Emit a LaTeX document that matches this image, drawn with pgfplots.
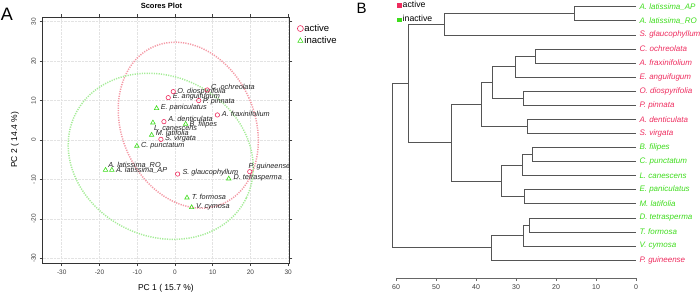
\documentclass[border=0pt]{standalone}
\usepackage{pgfplots}
\usepackage{pgfplotstable}
\pgfplotsset{compat=1.18}
\usepackage{fontspec}
\setmainfont{Liberation Sans}

\definecolor{act}{HTML}{EE2C5E}
\definecolor{inact}{HTML}{3EDC1C}
\definecolor{actell}{HTML}{F49AA6}
\definecolor{inactell}{HTML}{A6EC98}
\definecolor{dendcol}{HTML}{555555}
\definecolor{lab}{HTML}{222222}

% PCA scores (PC1, PC2)
\pgfplotstableread{
x      y
8.55   12.69
-0.45  12.27
-1.78  10.74
6.29   10.0
11.24  6.35
-2.92  4.65
-3.72  0.17
0.71   -8.63
19.82  -8.04
}\activetbl

\pgfplotstableread{
x      y
-4.87  8.04
-5.84  4.40
2.83   4.06
-6.19  1.27
-10.09 -1.52
-18.40 -7.61
-16.72 -7.61
14.25  -9.81
3.19   -14.64
4.42   -17.09
}\inactivetbl

\tikzset{sp/.style={font=\fontsize{7.3}{8.5}\selectfont\itshape, text=lab, anchor=west, inner sep=0pt}}
\tikzset{leaf/.style={font=\fontsize{8}{9}\selectfont\itshape, anchor=west, inner sep=0pt, xshift=3.3pt}}

\begin{document}
\begin{tikzpicture}[x=1pt,y=1pt]
\useasboundingbox (0,0) rectangle (700,293);

\node[font=\fontsize{18}{18}\selectfont] at (7,278.5) {A};
\node[font=\fontsize{15}{15}\selectfont] at (361.5,284.3) {B};

% ---------- PCA scores plot ----------
\begin{axis}[
  at={(165.9pt,153pt)}, anchor=center,
  scale only axis, width=246.8pt, height=246pt,
  xmin=-35.1, xmax=30.3, ymin=-31.2, ymax=31.2,
  xtick={-30,-20,...,30}, ytick={-30,-20,...,30},
  xticklabels={-30,-20,-10,0,10,20,30},
  yticklabels={-30,-20,-10,0,10,20,30},
  tick align=outside, major tick length=3pt,
  tick style={black!75, line width=0.5pt},
  grid=major, major grid style={gray!22, densely dotted, line width=0.6pt},
  axis line style={black!80, line width=0.6pt},
  ticklabel style={font=\fontsize{6.5}{7}\selectfont, text=black!75},
  yticklabel style={rotate=90},
  /pgf/number format/assume math mode=true,
  xlabel={PC 1 ( 15.7 \%)},
  ylabel={PC 2 ( 14.4 \%)},
  label style={font=\fontsize{8.5}{9}\selectfont},
  xlabel style={at={(axis description cs:0.5,-0.1016)}, anchor=center},
  ylabel style={at={(axis description cs:-0.1114,0.5)}, anchor=center},
  title={\textbf{Scores Plot}},
  title style={at={(axis description cs:0.482,1)}, anchor=center, yshift=5pt, font=\fontsize{7.5}{8}\selectfont},
  legend image code/.code={\draw[#1, mark size=3pt] plot coordinates {(0pt,0pt)};},
  legend style={at={(axis description cs:1.032,0.975)}, anchor=north west,
    draw=none, fill=none, inner sep=0pt, font=\fontsize{9.5}{10}\selectfont,
    row sep=2pt, nodes={inner sep=1pt}},
  legend cell align=left,
  clip=false,
]
% confidence ellipses
\draw[actell, line width=1.5pt, dash pattern=on 1.2pt off 1.2pt,
  rotate around={23.9:(axis cs:3.53,3.76)}]
  (axis cs:3.53,3.76) ellipse [x radius=66.5pt, y radius=85.8pt];
\draw[inactell, line width=1.5pt, dash pattern=on 1.2pt off 1.2pt,
  rotate around={-25.8:(axis cs:-3.77,-4.14)}]
  (axis cs:-3.77,-4.14) ellipse [x radius=95.2pt, y radius=79.9pt];

\addplot[only marks, mark=o, act, mark size=2.2pt, mark options={line width=0.6pt}]
  table {\activetbl};
\addlegendentry{active}
\addplot[only marks, mark=triangle, inact, mark size=2.6pt, mark options={line width=0.6pt}]
  table {\inactivetbl};
\addlegendentry{inactive}

\node[sp] at (axis cs:9.56,13.53) {C. ochreolata};
\node[sp] at (axis cs:0.62,12.27) {O. diospyrifolia};
\node[sp] at (axis cs:-0.62,11.08) {E. anguifugum};
\node[sp] at (axis cs:7.34,9.73) {P. pinnata};
\node[sp] at (axis cs:-3.8,8.2) {E. paniculatus};
\node[sp] at (axis cs:12.39,6.6) {A. fraxinifolium};
\node[sp] at (axis cs:-1.77,5.41) {A. denticulata};
\node[sp] at (axis cs:3.81,3.98) {B. filipes};
\node[sp] at (axis cs:-5.57,3.13) {L. canescens};
\node[sp] at (axis cs:-5.13,1.69) {M. latifolia};
\node[sp] at (axis cs:-2.65,0.25) {S. virgata};
\node[sp] at (axis cs:-9.03,-1.44) {C. punctatum};
\node[sp] at (axis cs:-17.7,-6.43) {A. latissima\_RO};
\node[sp] at (axis cs:-15.66,-7.78) {A. latissima\_AP};
\node[sp] at (axis cs:1.95,-8.38) {S. glaucophyllum};
\node[sp] at (axis cs:19.47,-6.77) {P. guineense};
\node[sp] at (axis cs:15.49,-9.56) {D. tetrasperma};
\node[sp] at (axis cs:4.42,-14.38) {T. formosa};
\node[sp] at (axis cs:5.57,-16.92) {V. cymosa};
\end{axis}

% ---------- Hierarchical clustering dendrogram ----------
\begin{axis}[
  at={(516pt,150.65pt)}, anchor=center,
  scale only axis, width=240pt, height=271.3pt,
  x dir=reverse, xmin=0, xmax=60, ymin=-0.27, ymax=19,
  axis x line*=bottom, hide y axis,
  xtick={0,10,...,60},
  tick align=outside, major tick length=3pt,
  x axis line style={black!60, line width=0.6pt, -},
  tick style={black!60, line width=0.6pt},
  ticklabel style={font=\fontsize{7}{8}\selectfont, text=black!75},
  /pgf/number format/assume math mode=true,
  clip=false,
  dendline/.style={dendcol, line width=0.7pt, forget plot},
  legend image code/.code={\draw[#1] plot coordinates {(0pt,0pt)};},
  legend style={at={(axis description cs:0.006,1.026)}, anchor=north west,
    draw=none, fill=none, inner sep=0pt, font=\fontsize{8.7}{9}\selectfont,
    row sep=3.5pt, nodes={inner sep=1.5pt}},
  legend cell align=left,
]
\addlegendimage{only marks, mark=square*, mark size=1.8pt, act}
\addlegendentry{active}
\addlegendimage{only marks, mark=square*, mark size=1.8pt, inact}
\addlegendentry{inactive}

\addplot[dendline] coordinates {(0,19) (15.4,19) (15.4,18) (0,18)};
\addplot[dendline] coordinates {(15.4,18.5) (48,18.5) (48,17) (0,17)};
\addplot[dendline] coordinates {(0,16) (25.1,16) (25.1,15) (0,15)};
\addplot[dendline] coordinates {(25.1,15.5) (30.1,15.5) (30.1,14) (0,14)};
\addplot[dendline] coordinates {(0,13) (28.2,13) (28.2,12) (0,12)};
\addplot[dendline] coordinates {(30.1,14.75) (35.9,14.75) (35.9,12.5) (28.2,12.5)};
\addplot[dendline] coordinates {(0,11) (27.2,11) (27.2,10) (0,10)};
\addplot[dendline] coordinates {(35.9,13.625) (38.6,13.625) (38.6,10.5) (27.2,10.5)};
\addplot[dendline] coordinates {(0,9) (25.9,9) (25.9,8) (0,8)};
\addplot[dendline] coordinates {(25.9,8.5) (28.4,8.5) (28.4,7) (0,7)};
\addplot[dendline] coordinates {(0,6) (28,6) (28,5) (0,5)};
\addplot[dendline] coordinates {(28.4,7.75) (33.6,7.75) (33.6,5.5) (28,5.5)};
\addplot[dendline] coordinates {(38.6,12.0625) (46.1,12.0625) (46.1,6.625) (33.6,6.625)};
\addplot[dendline] coordinates {(48,17.75) (57,17.75) (57,9.34375) (46.1,9.34375)};
\addplot[dendline] coordinates {(0,4) (26.75,4) (26.75,3) (0,3)};
\addplot[dendline] coordinates {(26.75,3.5) (28.2,3.5) (28.2,2) (0,2)};
\addplot[dendline] coordinates {(28.2,2.75) (36.25,2.75) (36.25,1) (0,1)};
\addplot[dendline] coordinates {(57,13.546875) (61,13.546875) (61,1.875) (36.25,1.875)};

\node[leaf, text=inact] at (axis cs:0,19) {A. latissima\_AP};
\node[leaf, text=inact] at (axis cs:0,18) {A. latissima\_RO};
\node[leaf, text=act]   at (axis cs:0,17) {S. glaucophyllum};
\node[leaf, text=act]   at (axis cs:0,16) {C. ochreolata};
\node[leaf, text=act]   at (axis cs:0,15) {A. fraxinifolium};
\node[leaf, text=act]   at (axis cs:0,14) {E. anguifugum};
\node[leaf, text=act]   at (axis cs:0,13) {O. diospyrifolia};
\node[leaf, text=act]   at (axis cs:0,12) {P. pinnata};
\node[leaf, text=act]   at (axis cs:0,11) {A. denticulata};
\node[leaf, text=act]   at (axis cs:0,10) {S. virgata};
\node[leaf, text=inact] at (axis cs:0,9) {B. filipes};
\node[leaf, text=inact] at (axis cs:0,8) {C. punctatum};
\node[leaf, text=inact] at (axis cs:0,7) {L. canescens};
\node[leaf, text=inact] at (axis cs:0,6) {E. paniculatus};
\node[leaf, text=inact] at (axis cs:0,5) {M. latifolia};
\node[leaf, text=inact] at (axis cs:0,4) {D. tetrasperma};
\node[leaf, text=inact] at (axis cs:0,3) {T. formosa};
\node[leaf, text=inact] at (axis cs:0,2) {V. cymosa};
\node[leaf, text=act]   at (axis cs:0,1) {P. guineense};
\end{axis}
\end{tikzpicture}
\end{document}
